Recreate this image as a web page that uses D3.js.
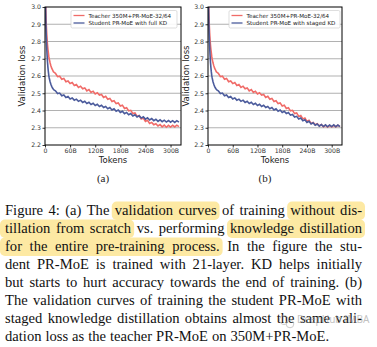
<!DOCTYPE html>
<html><head><meta charset="utf-8">
<script src="https://cdn.jsdelivr.net/npm/d3@7"></script>
<style>html,body{margin:0;padding:0;background:#fff;}svg{display:block;}</style>
</head><body>
<svg id="chart" width="377" height="347"></svg>
<script>
// ---------- data ----------
const tokens = [0,1,2,3,4,5,6,7,8,9,10,12,14,16,18,20,22,25,
  30,35,40,45,50,55,60,65,70,75,80,85,90,95,100,105,110,115,120,125,130,135,140,145,150,155,160,165,170,175,
  180,185,190,195,200,205,210,215,220,225,230,235,240,245,250,255,260,265,270,275,280,285,290,295,300,305,310,315,320];
const teacherLoss = [3.30,3.10,2.98,2.90,2.85,2.81,2.78,2.755,2.735,2.715,2.70,2.678,2.66,2.645,2.636,2.625,2.621,2.616,
  2.596,2.599,2.581,2.586,2.567,2.571,2.556,2.562,2.545,2.551,
  2.534,2.541,2.526,2.531,2.514,2.521,2.505,2.512,2.496,2.503,
  2.489,2.493,2.476,2.482,2.465,2.470,2.452,2.457,2.440,2.444,
  2.426,2.431,2.412,2.416,2.398,2.401,2.382,2.386,2.366,2.371,
  2.351,2.356,2.337,2.343,2.325,2.331,2.317,2.323,2.310,2.318,
  2.305,2.315,2.303,2.314,2.304,2.314,2.305,2.315,2.306];
const studentFullKD = [3.30,3.05,2.92,2.83,2.77,2.72,2.68,2.65,2.625,2.605,2.59,2.568,2.552,2.54,2.53,2.523,2.518,2.514,
  2.498,2.501,2.485,2.490,2.475,2.481,2.467,2.473,2.460,2.466,
  2.453,2.460,2.447,2.454,2.441,2.448,2.435,2.442,2.429,2.436,
  2.423,2.430,2.417,2.423,2.410,2.417,2.403,2.410,2.396,2.403,
  2.389,2.396,2.382,2.389,2.375,2.382,2.368,2.375,2.362,2.369,
  2.356,2.363,2.350,2.358,2.345,2.353,2.341,2.349,2.337,2.346,
  2.335,2.344,2.333,2.342,2.332,2.341,2.331,2.341,2.332];
const studentStagedKD = [3.30,3.05,2.92,2.83,2.77,2.72,2.68,2.65,2.625,2.605,2.59,2.568,2.552,2.54,2.53,2.523,2.518,2.514,
  2.498,2.501,2.485,2.490,2.475,2.481,2.467,2.473,2.460,2.466,
  2.453,2.460,2.447,2.454,2.441,2.448,2.435,2.442,2.429,2.436,
  2.423,2.430,2.417,2.423,2.410,2.417,2.403,2.410,2.396,2.403,
  2.389,2.396,2.382,2.388,2.373,2.377,2.362,2.366,2.351,2.356,
  2.341,2.346,2.331,2.337,2.322,2.329,2.315,2.322,2.309,2.318,
  2.307,2.317,2.306,2.316,2.307,2.317,2.306,2.316,2.307];
const xTicks = [0,60,120,180,240,300];
const xTickLabels = ["0","60B","120B","180B","240B","300B"];
const yTicks = [2.2,2.3,2.4,2.5,2.6,2.7,2.8,2.9,3.0];
const teacherName = "Teacher 350M+PR-MoE-32/64";
const studentNames = ["Student PR-MoE with full KD","Student PR-MoE with staged KD"];
const panelLabels = ["(a)","(b)"];
const captionLines = [
  "Figure 4: (a) The validation curves of training without dis-",
  "tillation from scratch vs. performing knowledge distillation",
  "for the entire pre-training process.  In the figure the stu-",
  "dent PR-MoE is trained with 21-layer.  KD helps initially",
  "but starts to hurt accuracy towards the end of training. (b)",
  "The validation curves of training the student PR-MoE with",
  "staged knowledge distillation obtains almost the same vali-",
  "dation loss as the teacher PR-MoE on 350M+PR-MoE."
];
// highlighted word ranges [line, firstWord, lastWord]
const highlights = [[0,4,5],[0,8,9],[1,0,2],[1,5,6],[2,0,4]];

// ---------- drawing ----------
const svg = d3.select("#chart");
const RED = "#f06b68", BLUE = "#4b5b9c";
const panels = [
  {left:45, right:181, top:7, bottom:145, student:studentFullKD, name:studentNames[0], lab:panelLabels[0], legX:71, legW:106, ylabX:25},
  {left:208, right:342, top:7, bottom:145, student:studentStagedKD, name:studentNames[1], lab:panelLabels[1], legX:229, legW:111, ylabX:189}
];

panels.forEach((p, i) => {
  const x = d3.scaleLinear().domain([0, 325]).range([p.left, p.right]);
  const y = d3.scaleLinear().domain([2.2, 3.0]).range([p.bottom, p.top]);
  const g = svg.append("g");
  g.selectAll(".grid").data(yTicks.slice(1, -1)).join("line")
    .attr("x1", p.left).attr("x2", p.right)
    .attr("y1", d => y(d)).attr("y2", d => y(d))
    .attr("stroke", "#a8a8a8").attr("stroke-width", 0.9);
  const cid = "clip" + i;
  svg.append("clipPath").attr("id", cid).append("rect")
    .attr("x", p.left).attr("y", p.top).attr("width", p.right - p.left).attr("height", p.bottom - p.top);
  const line = (vals) => d3.line().x((d, k) => x(tokens[k])).y(d => y(d))(vals);
  g.append("path").attr("d", line(teacherLoss)).attr("fill", "none")
    .attr("stroke", RED).attr("stroke-width", 1.6).attr("clip-path", `url(#${cid})`);
  g.append("path").attr("d", line(p.student)).attr("fill", "none")
    .attr("stroke", BLUE).attr("stroke-width", 1.6).attr("clip-path", `url(#${cid})`);
  const ax = g.append("g").attr("transform", `translate(0,${p.bottom})`)
    .call(d3.axisBottom(x).tickValues(xTicks).tickFormat((d, k) => xTickLabels[k]).tickSize(2.5).tickPadding(1.5));
  const ay = g.append("g").attr("transform", `translate(${p.left},0)`)
    .call(d3.axisLeft(y).tickValues(yTicks).tickFormat(d3.format(".1f")).tickSize(2.5).tickPadding(1.5));
  [ax, ay].forEach(a => {
    a.select(".domain").remove();
    a.selectAll("text").attr("font-family", "DejaVu Sans").attr("font-size", 6.2).attr("fill", "#333");
    a.selectAll("line").attr("stroke", "#000").attr("stroke-width", 0.8);
  });
  g.append("rect").attr("x", p.left).attr("y", p.top).attr("width", p.right - p.left).attr("height", p.bottom - p.top)
    .attr("fill", "none").attr("stroke", "#000").attr("stroke-width", 1);
  g.append("text").attr("transform", `translate(${p.ylabX},${(p.top + p.bottom) / 2}) rotate(-90)`)
    .attr("text-anchor", "middle").attr("font-family", "DejaVu Sans").attr("font-size", 8.5).attr("fill", "#222")
    .text("Validation loss");
  g.append("text").attr("x", (p.left + p.right) / 2).attr("y", 162.5)
    .attr("text-anchor", "middle").attr("font-family", "DejaVu Sans").attr("font-size", 8.5).attr("fill", "#222")
    .text("Tokens");
  g.append("text").attr("x", (p.left + p.right) / 2 - 10).attr("y", 182)
    .attr("text-anchor", "middle").attr("font-family", "Liberation Serif").attr("font-size", 11).attr("fill", "#222")
    .text(p.lab);
  const lg = g.append("g");
  lg.append("rect").attr("x", p.legX).attr("y", 10.5).attr("width", p.legW).attr("height", 17.5).attr("rx", 1.5)
    .attr("fill", "#fff").attr("fill-opacity", 0.9).attr("stroke", "#d0d0d0").attr("stroke-width", 0.7);
  [[teacherName, RED, 15.5], [p.name, BLUE, 23]].forEach(([t, c, yy]) => {
    lg.append("line").attr("x1", p.legX + 2.5).attr("x2", p.legX + 13.5).attr("y1", yy).attr("y2", yy)
      .attr("stroke", c).attr("stroke-width", 1.3);
    lg.append("text").attr("x", p.legX + 17.5).attr("y", yy + 2).attr("font-family", "DejaVu Sans")
      .attr("font-size", 5.6).attr("fill", "#222").text(t);
  });
});

// ---------- caption ----------
const cap = svg.append("g");
const hlLayer = cap.append("g");
const txtLayer = cap.append("g");
const X0 = 5, X1 = 362, FS = 14.6;
captionLines.forEach((ln, li) => {
  const base = 215 + li * 17.95;
  const words = ln.split(/\s+/);
  const tmp = txtLayer.append("text").attr("font-family", "Liberation Serif").attr("font-size", FS);
  const widths = words.map(w => { tmp.text(w); return tmp.node().getComputedTextLength(); });
  tmp.remove();
  const total = d3.sum(widths);
  const last = li === captionLines.length - 1;
  const gap = last ? FS * 0.27 : (X1 - X0 - total) / (words.length - 1);
  let cx = X0;
  const pos = [];
  words.forEach((w, k) => {
    pos.push([cx, cx + widths[k]]);
    txtLayer.append("text").attr("x", cx).attr("y", base).attr("font-family", "Liberation Serif")
      .attr("font-size", FS).attr("fill", "#111").text(w);
    cx += widths[k] + gap;
  });
  highlights.filter(h => h[0] === li).forEach(h => {
    const xa = h[1] === 0 ? 0 : pos[h[1]][0] - 3;
    const xb = pos[h[2]][1] + 3;
    hlLayer.append("rect").attr("x", xa).attr("y", base - 13.5).attr("width", xb - xa).attr("height", 18.5)
      .attr("rx", 5).attr("fill", "#fde9a3");
  });
});
// watermark (overlaps the caption, as in the reference)
const wm = svg.append("g").attr("opacity", 0.6);
wm.append("circle").attr("cx", 284).attr("cy", 320).attr("r", 4.5).attr("fill", "none").attr("stroke", "#aaa").attr("stroke-width", 1);
wm.append("circle").attr("cx", 290).attr("cy", 324).attr("r", 3.8).attr("fill", "none").attr("stroke", "#aaa").attr("stroke-width", 1);
wm.append("text").attr("x", 297).attr("y", 323).attr("font-family", "Noto Sans").attr("font-size", 10)
  .attr("fill", "#9a9a9a").text("DeepHub IMBA");
</script>
</body></html>
